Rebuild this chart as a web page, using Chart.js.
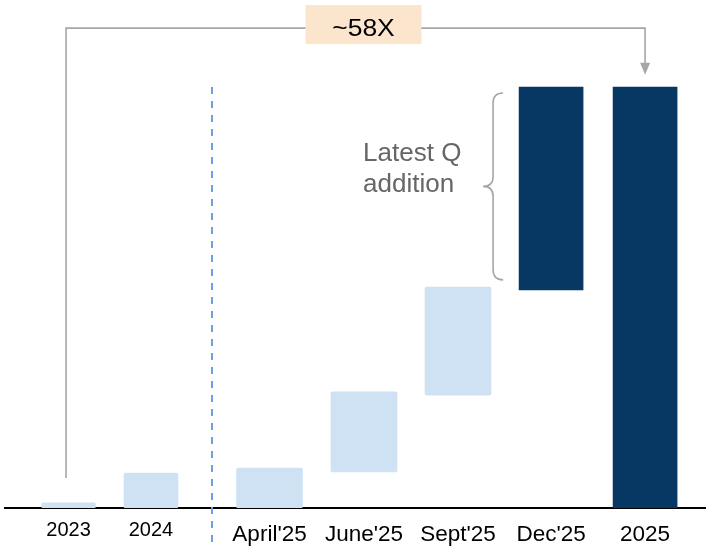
<!DOCTYPE html>
<html>
<head>
<meta charset="utf-8">
<script src="https://cdn.jsdelivr.net/npm/chart.js@4"></script>
<style>
  html, body { margin: 0; padding: 0; background: #ffffff; }
  #wrap { width: 706px; height: 549px; }
</style>
</head>
<body>
<div id="wrap"><canvas id="c" width="706" height="549"></canvas></div>
<script>
// ---- data ----
const categories = ["2023", "2024", "April'25", "June'25", "Sept'25", "Dec'25", "2025"];
const barStart   = [0,   0,   0,   8.6,  26.8, 51.8, 0];
const barEnd     = [1.2, 8.3, 9.5, 27.6, 52.5, 100,  100];
const barGroup   = ["narrow", "narrow", "wide", "wide", "wide", "dark", "dark"];
const growthLabel = "~58X";
const braceLabel  = ["Latest Q", "addition"];

// ---- layout (positions on the x axis, not data) ----
const xPos = [0, 0.877, 2.138, 3.143, 4.143, 5.133, 6.133];
const dividerX = 1.526;

const groupStyle = {
  narrow: { color: "#cfe2f3", thickness: 54, radius: 2 },
  wide:   { color: "#cfe2f3", thickness: 66, radius: 2 },
  dark:   { color: "#073763", thickness: 64, radius: 0 }
};

const datasets = Object.keys(groupStyle).map(g => ({
  label: g,
  data: categories.map((c, i) => ({ x: xPos[i], y: [barStart[i], barEnd[i]] }))
                  .filter((d, i) => barGroup[i] === g),
  backgroundColor: groupStyle[g].color,
  barThickness: groupStyle[g].thickness,
  borderRadius: groupStyle[g].radius,
  borderSkipped: false,
  grouped: false
}));

const FONT = "'Liberation Sans', Arial, sans-serif";

const overlay = {
  id: "overlay",
  afterDraw(chart) {
    const { ctx, chartArea } = chart;
    const x = chart.scales.x, y = chart.scales.y;
    const px = i => x.getPixelForValue(xPos[i]);
    ctx.save();

    // dashed divider
    const xd = Math.round(x.getPixelForValue(dividerX));
    ctx.strokeStyle = "#6d9eeb";
    ctx.lineWidth = 2;
    ctx.setLineDash([7, 7]);
    ctx.beginPath();
    ctx.moveTo(xd, y.getPixelForValue(100));
    ctx.lineTo(xd, chartArea.bottom + 37);
    ctx.stroke();
    ctx.setLineDash([]);

    // growth bracket
    const lx = px(0) - 2.5, rx = px(6);
    const topY = y.getPixelForValue(114);
    const startY = y.getPixelForValue(7.1);
    const tipY = y.getPixelForValue(102.9);
    ctx.strokeStyle = "#a6a6a6";
    ctx.lineWidth = 1.6;
    ctx.beginPath();
    ctx.moveTo(lx, startY);
    ctx.lineTo(lx, topY);
    ctx.lineTo(rx, topY);
    ctx.lineTo(rx, tipY - 11);
    ctx.stroke();
    ctx.fillStyle = "#a6a6a6";
    ctx.beginPath();
    ctx.moveTo(rx - 5, tipY - 12);
    ctx.lineTo(rx + 5, tipY - 12);
    ctx.lineTo(rx, tipY);
    ctx.closePath();
    ctx.fill();

    // label box
    const bcx = px(3) - 0.5;
    const bTop = chartArea.top, bBot = y.getPixelForValue(110.2);
    ctx.fillStyle = "#fce5cd";
    ctx.fillRect(bcx - 58, bTop, 116, bBot - bTop);
    ctx.save();
    ctx.fillStyle = "#000000";
    ctx.font = "23px " + FONT;
    ctx.textAlign = "center";
    ctx.textBaseline = "alphabetic";
    ctx.translate(bcx, 36);
    ctx.scale(1.15, 1);
    ctx.fillText(growthLabel, 0, 0);
    ctx.restore();

    // curly brace
    const bx = px(5) - 58;
    const t = y.getPixelForValue(98.6), b = y.getPixelForValue(54.2);
    const m = (t + b) / 2;
    ctx.strokeStyle = "#a6a6a6";
    ctx.lineWidth = 1.6;
    ctx.beginPath();
    ctx.moveTo(bx + 10, t);
    ctx.quadraticCurveTo(bx, t, bx, t + 10);
    ctx.lineTo(bx, m - 10);
    ctx.quadraticCurveTo(bx, m, bx - 10, m);
    ctx.quadraticCurveTo(bx, m, bx, m + 10);
    ctx.lineTo(bx, b - 10);
    ctx.quadraticCurveTo(bx, b, bx + 10, b);
    ctx.stroke();

    // brace text
    ctx.fillStyle = "#666666";
    ctx.font = "26px " + FONT;
    ctx.textAlign = "left";
    ctx.textBaseline = "alphabetic";
    ctx.fillText(braceLabel[0], bx - 130, m - 25.5);
    ctx.fillText(braceLabel[1], bx - 130, m + 5.5);

    ctx.restore();
  }
};

new Chart(document.getElementById("c"), {
  type: "bar",
  data: { datasets },
  options: {
    responsive: false,
    animation: false,
    devicePixelRatio: 1,
    layout: { padding: { left: 5, top: 5, right: 0, bottom: 0 } },
    plugins: { legend: { display: false }, tooltip: { enabled: false } },
    scales: {
      x: {
        type: "linear",
        offset: false,
        min: -0.676,
        max: 6.781,
        grid: { display: false, drawTicks: false, offset: false },
        border: { display: true, color: "#000000", width: 2 },
        ticks: {
          autoSkip: false,
          maxRotation: 0,
          padding: 14,
          color: "#000000",
          font: ctx => ctx.index < 2
            ? { family: FONT, size: 20, lineHeight: 0.85 }
            : { family: FONT, size: 22.5, lineHeight: 1.111 },
          callback: (v, i) => categories[i]
        },
        afterBuildTicks: s => { s.ticks = xPos.map(v => ({ value: v })); },
        afterFit: s => { s.height = 41; }
      },
      y: { display: false, min: 0, max: 119.5 }
    }
  },
  plugins: [overlay]
});
</script>
</body>
</html>
